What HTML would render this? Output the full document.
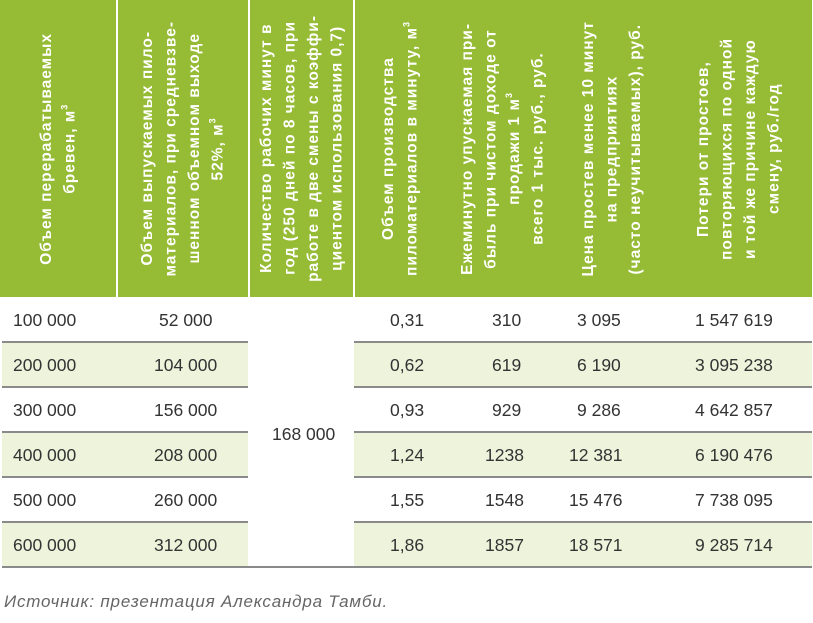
<!DOCTYPE html>
<html><head><meta charset="utf-8"><style>
body{margin:0;width:813px;height:623px;background:#fff;position:relative;overflow:hidden;font-family:"Liberation Sans","DejaVu Sans",sans-serif}
.hdr{position:absolute;top:0;height:297px;background:#96bb34}
.h{position:absolute;top:0;height:297px;display:flex;align-items:center;justify-content:center}
.h div{writing-mode:vertical-rl;transform:rotate(180deg);color:#fff;font-weight:bold;font-size:15.5px;letter-spacing:1px;line-height:23.5px;text-align:center;max-height:270px}
.vl{position:absolute;top:0;height:297px;width:2px;background:#fff}
.band{position:absolute;height:44px;background:#eef3dc}
.ln{position:absolute;height:2px;background:#8a8a8a}
.c{position:absolute;font-size:17.5px;color:#333;line-height:20px;white-space:nowrap}
sup{font-size:9px;line-height:0}
</style></head><body>
<div class="hdr" style="left:0;width:812px"></div>
<div class="vl" style="left:116px"></div>
<div class="vl" style="left:248px"></div>
<div class="vl" style="left:353px"></div>
<div class="h" style="left:0;width:116px"><div>Объем перерабатываемых<br>бревен, м<sup>3</sup></div></div>
<div class="h" style="left:118px;width:130px"><div>Объем выпускаемых пило-<br>материалов, при средневзве-<br>шенном объемном выходе<br>52%, м<sup>3</sup></div></div>
<div class="h" style="left:250px;width:103px"><div>Количество рабочих минут в<br>год (250 дней по 8 часов, при<br>работе в две смены с коэффи-<br>циентом использования 0,7)</div></div>
<div class="h" style="left:355px;width:90px"><div>Объем производства<br>пиломатериалов в минуту, м<sup>3</sup></div></div>
<div class="h" style="left:445px;width:115px"><div>Ежеминутно упускаемая при-<br>быль при чистом доходе от<br>продажи 1 м<sup>3</sup><br>всего 1 тыс. руб., руб.</div></div>
<div class="h" style="left:560px;width:105px"><div>Цена простев менее 10 минут<br>на предприятиях<br>(часто неучитываемых), руб.</div></div>
<div class="h" style="left:665px;width:147px"><div>Потери от простоев,<br>повторяющихся по одной<br>и той же причине каждую<br>смену, руб./год</div></div>

<div class="band" style="left:2px;width:246px;top:343px"></div>
<div class="band" style="left:354px;width:458px;top:343px"></div>
<div class="band" style="left:2px;width:246px;top:433px"></div>
<div class="band" style="left:354px;width:458px;top:433px"></div>
<div class="band" style="left:2px;width:246px;top:523px"></div>
<div class="band" style="left:354px;width:458px;top:523px"></div>

<div class="ln" style="left:2px;width:246px;top:341px"></div><div class="ln" style="left:354px;width:458px;top:341px"></div>
<div class="ln" style="left:2px;width:246px;top:386px"></div><div class="ln" style="left:354px;width:458px;top:386px"></div>
<div class="ln" style="left:2px;width:246px;top:431px"></div><div class="ln" style="left:354px;width:458px;top:431px"></div>
<div class="ln" style="left:2px;width:246px;top:476px"></div><div class="ln" style="left:354px;width:458px;top:476px"></div>
<div class="ln" style="left:2px;width:246px;top:521px"></div><div class="ln" style="left:354px;width:458px;top:521px"></div>
<div class="ln" style="left:2px;width:810px;top:566px"></div>

<div class="c" style="left:13px;top:310px">100 000</div>
<div class="c" style="left:13px;top:355px">200 000</div>
<div class="c" style="left:13px;top:400px">300 000</div>
<div class="c" style="left:13px;top:445px">400 000</div>
<div class="c" style="left:13px;top:490px">500 000</div>
<div class="c" style="left:13px;top:535px">600 000</div>

<div class="c" style="left:159px;top:310px">52 000</div>
<div class="c" style="left:154px;top:355px">104 000</div>
<div class="c" style="left:154px;top:400px">156 000</div>
<div class="c" style="left:154px;top:445px">208 000</div>
<div class="c" style="left:154px;top:490px">260 000</div>
<div class="c" style="left:154px;top:535px">312 000</div>

<div class="c" style="left:272px;top:424px">168 000</div>

<div class="c" style="left:390px;top:310px">0,31</div>
<div class="c" style="left:390px;top:355px">0,62</div>
<div class="c" style="left:390px;top:400px">0,93</div>
<div class="c" style="left:390px;top:445px">1,24</div>
<div class="c" style="left:390px;top:490px">1,55</div>
<div class="c" style="left:390px;top:535px">1,86</div>

<div class="c" style="left:492px;top:310px">310</div>
<div class="c" style="left:492px;top:355px">619</div>
<div class="c" style="left:492px;top:400px">929</div>
<div class="c" style="left:485px;top:445px">1238</div>
<div class="c" style="left:485px;top:490px">1548</div>
<div class="c" style="left:485px;top:535px">1857</div>

<div class="c" style="left:577px;top:310px">3 095</div>
<div class="c" style="left:577px;top:355px">6 190</div>
<div class="c" style="left:577px;top:400px">9 286</div>
<div class="c" style="left:569px;top:445px">12 381</div>
<div class="c" style="left:569px;top:490px">15 476</div>
<div class="c" style="left:569px;top:535px">18 571</div>

<div class="c" style="left:695px;top:310px">1 547 619</div>
<div class="c" style="left:695px;top:355px">3 095 238</div>
<div class="c" style="left:695px;top:400px">4 642 857</div>
<div class="c" style="left:695px;top:445px">6 190 476</div>
<div class="c" style="left:695px;top:490px">7 738 095</div>
<div class="c" style="left:695px;top:535px">9 285 714</div>

<div class="c" style="left:4px;top:592px;font-size:17px;font-style:italic;color:#666;letter-spacing:0.8px">Источник: презентация Александра Тамби.</div>
</body></html>
